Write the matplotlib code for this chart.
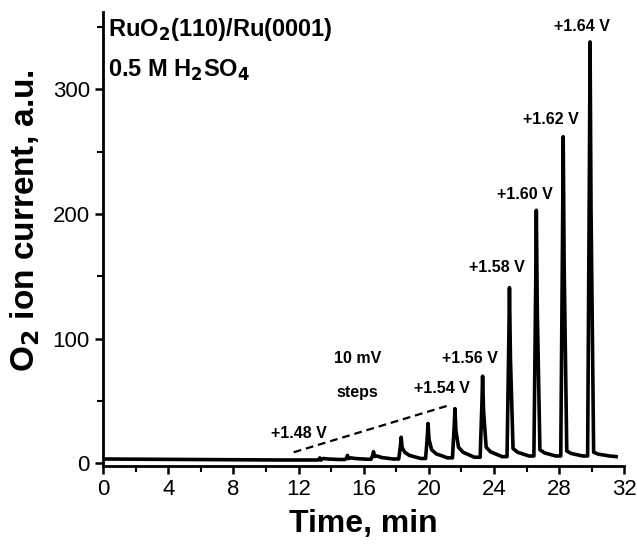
import numpy as np
import matplotlib.pyplot as plt

plt.rcParams['font.family'] = ['Liberation Sans', 'DejaVu Sans']

# peak positions (min) and heights (a.u.)
peak_t = [13.3, 15.0, 16.6, 18.3, 19.95, 21.6, 23.3, 24.95, 26.6, 28.25, 29.9]
peak_h = [4.5, 6.5, 9.5, 21, 32, 44, 70, 141, 203, 262, 338]
# level just after each peak and level the trace relaxes to before the next one
after_h = [4, 4.5, 6, 9, 11, 13, 13, 12, 11, 10, 9]
base_h = [3.2, 3.4, 3.6, 4.0, 4.5, 5.0, 5.5, 6.0, 6.0, 6.0, 6.0]

# flat start of the trace
start_t = [0.0, 4.0, 8.0, 11.0, 12.9]
start_y = [3.6, 3.3, 3.0, 2.8, 2.8]
end_t, end_y = 31.5, 5.5

labels = ['+1.48 V', '+1.54 V', '+1.56 V', '+1.58 V', '+1.60 V', '+1.62 V', '+1.64 V']
label_x = [12.0, 20.8, 22.5, 24.2, 25.9, 27.5, 29.4]
label_y = [24, 60, 84, 157, 216, 276, 350]

t = list(start_t)
y = list(start_y)
for i, (pt, ph) in enumerate(zip(peak_t, peak_h)):
    t += [pt - 0.15, pt - 0.04, pt, pt + 0.06, pt + 0.22, pt + 0.5, pt + 1.2]
    y += [base_h[i - 1] if i else 2.8, ph * 0.7, ph, ph * 0.6, after_h[i],
          (after_h[i] + base_h[i]) / 2, base_h[i]]
t.append(end_t)
y.append(end_y)

fig = plt.figure(figsize=(6.37, 5.45), dpi=100)
ax = fig.add_axes([0.162, 0.145, 0.818, 0.833])

ax.plot(t, y, color='black', lw=2.6, solid_joinstyle='round')
ax.plot([11.7, 21.2], [9, 46.5], color='black', lw=1.6, ls=(0, (3.5, 2.2)))

for lab, lx, ly in zip(labels, label_x, label_y):
    ax.text(lx, ly, lab, fontsize=11.5, fontweight='bold', ha='center', va='center')
ax.text(15.6, 84, '10 mV', fontsize=11.5, fontweight='bold', ha='center', va='center')
ax.text(15.6, 57, 'steps', fontsize=11.5, fontweight='bold', ha='center', va='center')

ax.text(0.3, 348, r'RuO$_\mathbf{2}$(110)/Ru(0001)', fontsize=17, fontweight='bold',
        ha='left', va='center')
ax.text(0.3, 315, r'0.5 M H$_\mathbf{2}$SO$_\mathbf{4}$', fontsize=17, fontweight='bold',
        ha='left', va='center')

ax.set_xlim(0, 32)
ax.set_ylim(-2, 362)
ax.set_xticks(np.arange(0, 33, 4))
ax.set_xticks(np.arange(0, 33, 2), minor=True)
ax.set_yticks([0, 100, 200, 300])
ax.set_yticks([50, 150, 250, 350], minor=True)

ax.set_xlabel('Time, min', fontsize=23, fontweight='bold', labelpad=6)
ax.set_ylabel(r'O$_\mathbf{2}$ ion current, a.u.', fontsize=24, fontweight='bold')
ax.yaxis.set_label_coords(-0.118, 0.54)

for side in ['top', 'right']:
    ax.spines[side].set_visible(False)
for side in ['bottom', 'left']:
    ax.spines[side].set_linewidth(2)

ax.tick_params(axis='both', which='major', labelsize=16, width=1.8, length=6, direction='out')
ax.tick_params(axis='both', which='minor', width=1.5, length=4, direction='out')

fig.savefig('out.png', dpi=100)
